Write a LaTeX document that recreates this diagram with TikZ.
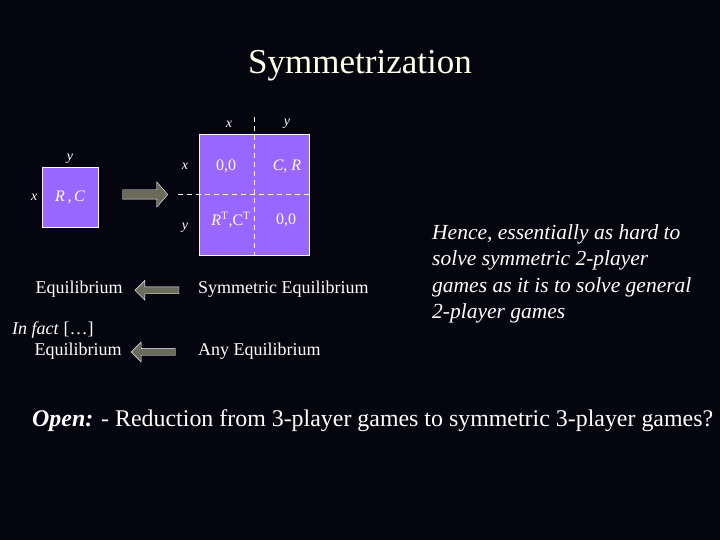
\documentclass[tikz,border=0pt]{standalone}
\usepackage{fontspec}
\setmainfont{Liberation Serif}
\usetikzlibrary{positioning,shapes.arrows}

\definecolor{slidebg}{HTML}{05050F}
\definecolor{gamefill}{HTML}{9966FF}
\definecolor{arrowfill}{HTML}{6B6B5C}
\definecolor{titlecol}{HTML}{FFFFE6}

\tikzstyle{every node}=[text=white, inner sep=0pt]
\tikzstyle{game}=[draw=white, thick, fill=gamefill]
\tikzstyle{strat}=[font={\fontsize{14}{16}\selectfont\itshape}]
\tikzstyle{cell}=[font={\fontsize{16}{18}\selectfont}]
\tikzstyle{cellit}=[font={\fontsize{16}{18}\selectfont\itshape}]
\tikzstyle{body}=[font={\fontsize{18}{20}\selectfont}]
\tikzstyle{bigarrow}=[single arrow, draw=white, fill=arrowfill, inner xsep=0pt, inner ysep=4.5pt, single arrow head extend=8pt, single arrow tip angle=98, minimum width=0pt, minimum height=45pt]
\tikzstyle{smallarrow}=[bigarrow, inner ysep=3.25pt, single arrow head extend=6.5pt, single arrow tip angle=90, minimum height=44pt, shape border rotate=180]
\tikzstyle{divider}=[white, thick, dash pattern=on 5pt off 4pt]

\begin{document}
\begin{tikzpicture}[x=1pt, y=-1pt]
    \fill [slidebg] (0,0) rectangle (720,540);
    \useasboundingbox (0,0) rectangle (720,540);

    \node [text=titlecol, font={\fontsize{35}{40}\selectfont}] (title) at (360,66) {Symmetrization};

    % the 2-player game
    \node [game, minimum width=56pt, minimum height=60pt, cellit] (small) at (70,197) {R\,,\,C};
    \node [strat, above=3pt of small] (smally) {y};
    \node [strat, left=4pt of small] (smallx) {x};

    \node [bigarrow] (toSym) at (143.2,194.5) {};

    % the symmetric game
    \node [game, minimum width=110pt, minimum height=121pt] (big) at (254,194.5) {};
    \coordinate (vtop) at (254,117);
    \coordinate (hleft) at (178,194);
    \draw [divider] (vtop) -- (vtop |- big.south);
    \draw [divider] (hleft) -- (hleft -| big.east);
    \node [strat] (colx) at (229,124) {x};
    \node [strat] (coly) at (287,124) {y};
    \node [strat] (rowx) at (185,166) {x};
    \node [strat] (rowy) at (185,228) {y};
    \node [cell] (xx) at (226,166) {0,0};
    \node [cellit] (xy) at (287,166) {C, R};
    \node [cell] (yx) at (231,220) {\textit{R}\textsuperscript{T},C\textsuperscript{T}};
    \node [cell] (yy) at (286,220) {0,0};

    % equilibria
    \node [body] (eq1) at (79,289) {Equilibrium};
    \node [smallarrow] (back1) at (158.7,290.3) {};
    \node [body, anchor=west] (symeq) at (198,289) {Symmetric Equilibrium};

    \node [body, anchor=west] (infact) at (12,330) {\textit{In fact} […]};
    \node [body] (eq2) at (78,351) {Equilibrium};
    \node [smallarrow] (back2) at (155,352) {};
    \node [body, anchor=west] (anyeq) at (198,351) {Any Equilibrium};

    \node [anchor=north west, align=left, font={\fontsize{21.5}{26.5}\selectfont\itshape}] (hence) at (432,224)
        {Hence, essentially as hard to\\solve symmetric 2-player\\games as it is to solve general\\2-player games};

    \node [anchor=west, font={\fontsize{23.9}{26}\selectfont}] (open) at (32,421)
        {\textbf{\textit{Open:}} - Reduction from 3-player games to symmetric 3-player games?};
\end{tikzpicture}
\end{document}
